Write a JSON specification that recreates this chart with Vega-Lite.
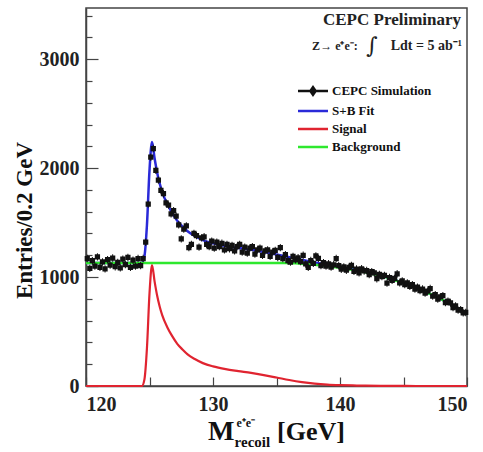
{
  "$schema": "https://vega.github.io/schema/vega-lite/v6.json",
  "width": 381,
  "height": 378,
  "autosize": {"type": "none"},
  "padding": {"left": 86, "top": 8, "right": 16, "bottom": 66},
  "background": "white",
  "config": {
    "view": {"stroke": "#444", "strokeWidth": 1.5},
    "font": "Liberation Serif"
  },
  "datasets": {
    "sim": [
      {"m": 120.1, "n": 1170}, {"m": 120.3, "n": 1080}, {"m": 120.5, "n": 1150}, {"m": 120.7, "n": 1100}, {"m": 120.9, "n": 1185},
      {"m": 121.1, "n": 1090}, {"m": 121.3, "n": 1140}, {"m": 121.5, "n": 1075}, {"m": 121.7, "n": 1160}, {"m": 121.9, "n": 1110},
      {"m": 122.1, "n": 1175}, {"m": 122.3, "n": 1095}, {"m": 122.5, "n": 1135}, {"m": 122.7, "n": 1085}, {"m": 122.9, "n": 1165},
      {"m": 123.1, "n": 1115}, {"m": 123.3, "n": 1180}, {"m": 123.5, "n": 1090}, {"m": 123.7, "n": 1155}, {"m": 123.9, "n": 1100},
      {"m": 124.1, "n": 1170}, {"m": 124.3, "n": 1105}, {"m": 124.5, "n": 1170}, {"m": 124.7, "n": 1320}, {"m": 124.9, "n": 1670},
      {"m": 125.1, "n": 2100}, {"m": 125.3, "n": 2180}, {"m": 125.5, "n": 1980}, {"m": 125.7, "n": 1890}, {"m": 125.9, "n": 1795},
      {"m": 126.1, "n": 1765}, {"m": 126.3, "n": 1680}, {"m": 126.5, "n": 1660}, {"m": 126.7, "n": 1580}, {"m": 126.9, "n": 1610},
      {"m": 127.1, "n": 1560}, {"m": 127.3, "n": 1480}, {"m": 127.5, "n": 1350}, {"m": 127.7, "n": 1440}, {"m": 127.9, "n": 1470},
      {"m": 128.1, "n": 1270}, {"m": 128.3, "n": 1300}, {"m": 128.5, "n": 1400}, {"m": 128.7, "n": 1380}, {"m": 128.9, "n": 1275},
      {"m": 129.1, "n": 1360}, {"m": 129.3, "n": 1370}, {"m": 129.5, "n": 1300}, {"m": 129.7, "n": 1280}, {"m": 129.9, "n": 1330},
      {"m": 130.1, "n": 1265}, {"m": 130.3, "n": 1320}, {"m": 130.5, "n": 1280}, {"m": 130.7, "n": 1310}, {"m": 130.9, "n": 1250},
      {"m": 131.1, "n": 1300}, {"m": 131.3, "n": 1260}, {"m": 131.5, "n": 1290}, {"m": 131.7, "n": 1240}, {"m": 131.9, "n": 1280},
      {"m": 132.1, "n": 1300}, {"m": 132.3, "n": 1230}, {"m": 132.5, "n": 1275}, {"m": 132.7, "n": 1220}, {"m": 132.9, "n": 1265},
      {"m": 133.1, "n": 1280}, {"m": 133.3, "n": 1210}, {"m": 133.5, "n": 1250}, {"m": 133.7, "n": 1265}, {"m": 133.9, "n": 1200},
      {"m": 134.1, "n": 1240}, {"m": 134.3, "n": 1250}, {"m": 134.5, "n": 1190}, {"m": 134.7, "n": 1230}, {"m": 134.9, "n": 1245},
      {"m": 135.1, "n": 1180}, {"m": 135.3, "n": 1270}, {"m": 135.5, "n": 1170}, {"m": 135.7, "n": 1205}, {"m": 135.9, "n": 1150},
      {"m": 136.1, "n": 1138}, {"m": 136.3, "n": 1190}, {"m": 136.5, "n": 1158}, {"m": 136.7, "n": 1177}, {"m": 136.9, "n": 1142},
      {"m": 137.1, "n": 1200}, {"m": 137.3, "n": 1120}, {"m": 137.5, "n": 1090}, {"m": 137.7, "n": 1152}, {"m": 137.9, "n": 1126},
      {"m": 138.1, "n": 1195}, {"m": 138.3, "n": 1171}, {"m": 138.5, "n": 1106}, {"m": 138.7, "n": 1132}, {"m": 138.9, "n": 1100},
      {"m": 139.1, "n": 1122}, {"m": 139.3, "n": 1091}, {"m": 139.5, "n": 1113}, {"m": 139.7, "n": 1170}, {"m": 139.9, "n": 1104},
      {"m": 140.1, "n": 1072}, {"m": 140.3, "n": 1094}, {"m": 140.5, "n": 1063}, {"m": 140.7, "n": 1088}, {"m": 140.9, "n": 1107},
      {"m": 141.1, "n": 1052}, {"m": 141.3, "n": 1074}, {"m": 141.5, "n": 1039}, {"m": 141.7, "n": 1076}, {"m": 141.9, "n": 1056},
      {"m": 142.1, "n": 1060}, {"m": 142.3, "n": 1022}, {"m": 142.5, "n": 1050}, {"m": 142.7, "n": 1038}, {"m": 142.9, "n": 985},
      {"m": 143.1, "n": 1025}, {"m": 143.3, "n": 1004}, {"m": 143.5, "n": 1016}, {"m": 143.7, "n": 945}, {"m": 143.9, "n": 996},
      {"m": 144.1, "n": 969}, {"m": 144.3, "n": 987}, {"m": 144.5, "n": 1030}, {"m": 144.7, "n": 947}, {"m": 144.9, "n": 965},
      {"m": 145.1, "n": 931}, {"m": 145.3, "n": 946}, {"m": 145.5, "n": 915}, {"m": 145.7, "n": 930}, {"m": 145.9, "n": 890},
      {"m": 146.1, "n": 907}, {"m": 146.3, "n": 876}, {"m": 146.5, "n": 890}, {"m": 146.7, "n": 853}, {"m": 146.9, "n": 870},
      {"m": 147.1, "n": 895}, {"m": 147.3, "n": 825}, {"m": 147.5, "n": 839}, {"m": 147.7, "n": 798}, {"m": 147.9, "n": 818},
      {"m": 148.1, "n": 830}, {"m": 148.3, "n": 766}, {"m": 148.5, "n": 779}, {"m": 148.7, "n": 762}, {"m": 148.9, "n": 720},
      {"m": 149.1, "n": 736}, {"m": 149.3, "n": 697}, {"m": 149.5, "n": 701}, {"m": 149.7, "n": 671}, {"m": 149.9, "n": 675}
    ],
    "fit": [
      {"c": "S+B Fit", "m": 120, "v": 1130}, {"c": "S+B Fit", "m": 124.4, "v": 1130}, {"c": "S+B Fit", "m": 124.6, "v": 1190},
      {"c": "S+B Fit", "m": 124.8, "v": 1480}, {"c": "S+B Fit", "m": 125.0, "v": 1980}, {"c": "S+B Fit", "m": 125.2, "v": 2240},
      {"c": "S+B Fit", "m": 125.4, "v": 2090}, {"c": "S+B Fit", "m": 125.6, "v": 1960}, {"c": "S+B Fit", "m": 125.8, "v": 1860},
      {"c": "S+B Fit", "m": 126.0, "v": 1780}, {"c": "S+B Fit", "m": 126.4, "v": 1670}, {"c": "S+B Fit", "m": 126.8, "v": 1585},
      {"c": "S+B Fit", "m": 127.2, "v": 1515}, {"c": "S+B Fit", "m": 127.6, "v": 1465}, {"c": "S+B Fit", "m": 128.0, "v": 1420},
      {"c": "S+B Fit", "m": 128.6, "v": 1375}, {"c": "S+B Fit", "m": 129.2, "v": 1340}, {"c": "S+B Fit", "m": 130, "v": 1310},
      {"c": "S+B Fit", "m": 131, "v": 1285}, {"c": "S+B Fit", "m": 132, "v": 1267}, {"c": "S+B Fit", "m": 133, "v": 1250},
      {"c": "S+B Fit", "m": 134, "v": 1230}, {"c": "S+B Fit", "m": 135, "v": 1208}, {"c": "S+B Fit", "m": 136, "v": 1183},
      {"c": "S+B Fit", "m": 137, "v": 1158}, {"c": "S+B Fit", "m": 138, "v": 1134}, {"c": "S+B Fit", "m": 139, "v": 1113},
      {"c": "S+B Fit", "m": 140, "v": 1093}, {"c": "S+B Fit", "m": 141, "v": 1071}, {"c": "S+B Fit", "m": 142, "v": 1048},
      {"c": "S+B Fit", "m": 143, "v": 1019}, {"c": "S+B Fit", "m": 144, "v": 986}, {"c": "S+B Fit", "m": 145, "v": 945},
      {"c": "S+B Fit", "m": 146, "v": 900}, {"c": "S+B Fit", "m": 147, "v": 850}, {"c": "S+B Fit", "m": 148, "v": 795},
      {"c": "S+B Fit", "m": 149, "v": 730}, {"c": "S+B Fit", "m": 150, "v": 660}
    ],
    "signal": [
      {"c": "Signal", "m": 120, "v": 0}, {"c": "Signal", "m": 124.4, "v": 0}, {"c": "Signal", "m": 124.6, "v": 60},
      {"c": "Signal", "m": 124.8, "v": 350}, {"c": "Signal", "m": 125.0, "v": 850}, {"c": "Signal", "m": 125.2, "v": 1110},
      {"c": "Signal", "m": 125.4, "v": 960}, {"c": "Signal", "m": 125.6, "v": 830}, {"c": "Signal", "m": 125.8, "v": 730},
      {"c": "Signal", "m": 126.0, "v": 650}, {"c": "Signal", "m": 126.4, "v": 540}, {"c": "Signal", "m": 126.8, "v": 455},
      {"c": "Signal", "m": 127.2, "v": 385}, {"c": "Signal", "m": 127.6, "v": 335}, {"c": "Signal", "m": 128.0, "v": 290},
      {"c": "Signal", "m": 128.6, "v": 245}, {"c": "Signal", "m": 129.2, "v": 210}, {"c": "Signal", "m": 130, "v": 180},
      {"c": "Signal", "m": 131, "v": 155}, {"c": "Signal", "m": 132, "v": 137}, {"c": "Signal", "m": 133, "v": 120},
      {"c": "Signal", "m": 134, "v": 100}, {"c": "Signal", "m": 135, "v": 78}, {"c": "Signal", "m": 136, "v": 55},
      {"c": "Signal", "m": 137, "v": 36}, {"c": "Signal", "m": 138, "v": 22}, {"c": "Signal", "m": 139, "v": 13},
      {"c": "Signal", "m": 140, "v": 8}, {"c": "Signal", "m": 141, "v": 5}, {"c": "Signal", "m": 142, "v": 3},
      {"c": "Signal", "m": 144, "v": 1}, {"c": "Signal", "m": 146, "v": 0}, {"c": "Signal", "m": 150, "v": 0}
    ],
    "background": [
      {"c": "Background", "m": 120, "v": 1130}, {"c": "Background", "m": 125, "v": 1130}, {"c": "Background", "m": 130, "v": 1130},
      {"c": "Background", "m": 135, "v": 1130}, {"c": "Background", "m": 136, "v": 1128}, {"c": "Background", "m": 137, "v": 1122},
      {"c": "Background", "m": 138, "v": 1112}, {"c": "Background", "m": 139, "v": 1100}, {"c": "Background", "m": 140, "v": 1085},
      {"c": "Background", "m": 141, "v": 1066}, {"c": "Background", "m": 142, "v": 1045}, {"c": "Background", "m": 143, "v": 1018},
      {"c": "Background", "m": 144, "v": 985}, {"c": "Background", "m": 145, "v": 945}, {"c": "Background", "m": 146, "v": 900},
      {"c": "Background", "m": 147, "v": 850}, {"c": "Background", "m": 148, "v": 795}, {"c": "Background", "m": 149, "v": 730},
      {"c": "Background", "m": 150, "v": 660}
    ],
    "notes": [
      {"m": 149.53, "v": 3314, "t": "CEPC Preliminary", "k": "head"},
      {"m": 149.6, "v": 3085, "t": "Ldt = 5 ab⁻¹", "k": "lumi"},
      {"m": 141.4, "v": 3085, "t": "Z→ e⁺e⁻:", "k": "zee"},
      {"m": 142.5, "v": 3060, "t": "∫", "k": "int"},
      {"m": 129.61, "v": -492, "t": "M", "k": "big"},
      {"m": 135.04, "v": -492, "t": "[GeV]", "k": "unit"},
      {"m": 131.85, "v": -372, "t": "e⁺e⁻", "k": "sup"},
      {"m": 131.7, "v": -562, "t": "recoil", "k": "sub"}
    ]
  },
  "encoding": {
    "x": {
      "field": "m", "type": "quantitative",
      "scale": {"domain": [120, 150], "nice": false, "zero": false},
      "axis": {
        "title": null,
        "values": [120, 125, 130, 135, 140, 145, 150],
        "labelExpr": "datum.value % 10 === 0 ? datum.label : ''",
        "labelFont": "Liberation Serif", "labelFontWeight": "bold", "labelFontSize": 20, "labelColor": "#222",
        "labelPadding": 17,
        "tickSize": -9, "tickColor": "#444", "tickWidth": 1.2,
        "domainColor": "#444", "domainWidth": 1.5,
        "grid": false
      }
    },
    "y": {
      "field": "v", "type": "quantitative",
      "scale": {"domain": [0, 3470], "nice": false},
      "axis": {
        "title": "Entries/0.2 GeV",
        "titleFont": "Liberation Serif", "titleFontWeight": "bold", "titleFontSize": 23, "titleColor": "#111",
        "titleX": -50, "titleY": 212, "titleAngle": -90, "titleAlign": "center", "titleBaseline": "bottom",
        "values": [0, 200, 400, 600, 800, 1000, 1200, 1400, 1600, 1800, 2000, 2200, 2400, 2600, 2800, 3000, 3200, 3400],
        "format": "d",
        "labelExpr": "datum.value % 1000 === 0 ? datum.label : ''",
        "labelFont": "Liberation Serif", "labelFontWeight": "bold", "labelFontSize": 20, "labelColor": "#222",
        "labelPadding": 19,
        "tickSize": {"condition": {"test": "datum.value % 1000 === 0", "value": -12}, "value": -6},
        "tickColor": "#444", "tickWidth": 1.2,
        "domainColor": "#444", "domainWidth": 1.5,
        "grid": false
      }
    }
  },
  "layer": [
    {
      "data": {"name": "fit"},
      "mark": {"type": "line", "interpolate": "monotone", "strokeWidth": 2.5},
      "encoding": {
        "color": {
          "field": "c", "type": "nominal",
          "scale": {
            "domain": ["CEPC Simulation", "S+B Fit", "Signal", "Background"],
            "range": ["#111111", "#2a2ad8", "#e02430", "#2ee82e"]
          },
          "legend": {
            "title": null, "orient": "none", "legendX": 218, "legendY": 74,
            "padding": 0,
            "symbolType": "M-2,0H2", "symbolSize": 225, "symbolStrokeWidth": 2.5,
            "symbolFillColor": "transparent",
            "labelFont": "Liberation Serif", "labelFontWeight": "bold", "labelFontSize": 13, "labelColor": "#111",
            "labelOffset": 10, "rowPadding": 2,
            "encode": {
              "symbols": {
                "update": {
                  "shape": {"signal": "datum.value === 'CEPC Simulation' ? 'M-2,0H2M0,-0.5L0.35,0L0,0.5L-0.35,0Z' : 'M-2,0H2'"},
                  "fill": {"signal": "datum.value === 'CEPC Simulation' ? '#111111' : 'transparent'"}
                }
              }
            }
          }
        }
      }
    },
    {
      "data": {"name": "signal"},
      "mark": {"type": "line", "interpolate": "monotone", "strokeWidth": 2.2},
      "encoding": {"color": {"field": "c", "type": "nominal"}}
    },
    {
      "data": {"name": "background"},
      "mark": {"type": "line", "interpolate": "monotone", "strokeWidth": 2.5},
      "encoding": {"color": {"field": "c", "type": "nominal"}}
    },
    {
      "data": {"name": "sim"},
      "mark": {
        "type": "point", "filled": true, "opacity": 1,
        "shape": "M-0.75,-0.75H0.75V0.75H-0.75Z M-0.14,-1.05H0.14V1.05H-0.14Z",
        "size": 49
      },
      "encoding": {
        "y": {"field": "n", "type": "quantitative"},
        "color": {"datum": "CEPC Simulation"}
      }
    },
    {
      "data": {"name": "notes"},
      "transform": [{"filter": "datum.k === 'head'"}],
      "mark": {"type": "text", "align": "right", "baseline": "alphabetic", "font": "Liberation Serif", "fontWeight": "bold", "fontSize": 17, "color": "#222"},
      "encoding": {"text": {"field": "t"}}
    },
    {
      "data": {"name": "notes"},
      "transform": [{"filter": "datum.k === 'lumi'"}],
      "mark": {"type": "text", "align": "right", "baseline": "alphabetic", "font": "Liberation Serif", "fontWeight": "bold", "fontSize": 14, "color": "#222"},
      "encoding": {"text": {"field": "t"}}
    },
    {
      "data": {"name": "notes"},
      "transform": [{"filter": "datum.k === 'zee'"}],
      "mark": {"type": "text", "align": "right", "baseline": "alphabetic", "font": "Liberation Serif", "fontWeight": "bold", "fontSize": 12, "color": "#222"},
      "encoding": {"text": {"field": "t"}}
    },
    {
      "data": {"name": "notes"},
      "transform": [{"filter": "datum.k === 'int'"}],
      "mark": {"type": "text", "align": "center", "baseline": "alphabetic", "font": "DejaVu Serif", "fontSize": 22, "color": "#222"},
      "encoding": {"text": {"field": "t"}}
    },
    {
      "data": {"name": "notes"},
      "transform": [{"filter": "datum.k === 'big'"}],
      "mark": {"type": "text", "align": "left", "baseline": "alphabetic", "font": "Liberation Serif", "fontWeight": "bold", "fontSize": 28, "color": "#111"},
      "encoding": {"text": {"field": "t"}}
    },
    {
      "data": {"name": "notes"},
      "transform": [{"filter": "datum.k === 'unit'"}],
      "mark": {"type": "text", "align": "left", "baseline": "alphabetic", "font": "Liberation Serif", "fontWeight": "bold", "fontSize": 26, "color": "#111"},
      "encoding": {"text": {"field": "t"}}
    },
    {
      "data": {"name": "notes"},
      "transform": [{"filter": "datum.k === 'sup'"}],
      "mark": {"type": "text", "align": "left", "baseline": "alphabetic", "font": "Liberation Serif", "fontWeight": "bold", "fontSize": 12, "color": "#111"},
      "encoding": {"text": {"field": "t"}}
    },
    {
      "data": {"name": "notes"},
      "transform": [{"filter": "datum.k === 'sub'"}],
      "mark": {"type": "text", "align": "left", "baseline": "alphabetic", "font": "Liberation Serif", "fontWeight": "bold", "fontSize": 15, "color": "#111"},
      "encoding": {"text": {"field": "t"}}
    }
  ]
}
